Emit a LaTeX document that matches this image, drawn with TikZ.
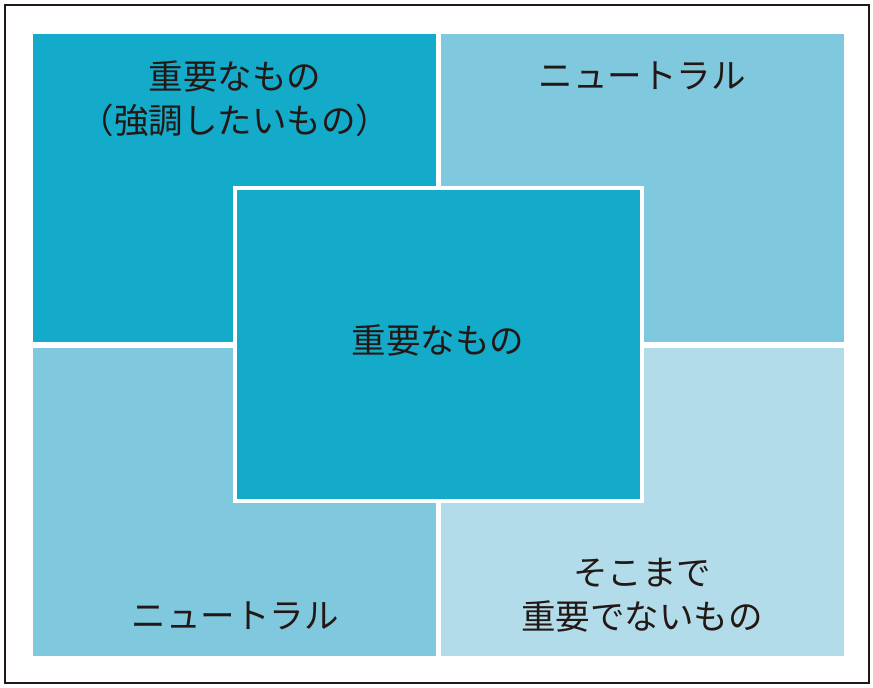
\documentclass[tikz,border=0pt]{standalone}
\usepackage{fontspec}
\newfontfamily\jpfont{Noto Sans CJK JP}

\begin{document}
\begin{tikzpicture}[
    x=1pt, y=-1pt,
    quad/.style={inner sep=0pt, minimum width=403pt, minimum height=308pt},
    centerbox/.style={draw=white, line width=4pt, fill=strong,
        inner sep=0pt, minimum width=407pt, minimum height=313pt},
    word/.style={font=\jpfont\fontsize{34.5}{44}\selectfont, text=ink,
        align=center, inner sep=0pt}
]
    \definecolor{strong}{HTML}{13ABC9}
    \definecolor{neutral}{HTML}{80C8DD}
    \definecolor{weak}{HTML}{B2DCE9}
    \definecolor{ink}{HTML}{231815}
    \useasboundingbox (0,0) rectangle (873,688);
    \draw[line width=1.2pt, draw=ink] (5,5) rectangle (869,683);
    % quadrants
    \node[quad, fill=strong] (tl) at (234.5,188) {};
    \node[quad, fill=neutral] (tr) at (642.5,188) {};
    \node[quad, fill=neutral] (bl) at (234.5,501.5) {};
    \node[quad, fill=weak] (br) at (642.5,501.5) {};
    \node[centerbox] (mid) at (438.5,344.5) {};
    % texts
    \node[word] (tltext) at (235,99) {重要なもの\\（強調したいもの）};
    \node[word] (trtext) at (642,76) {ニュートラル};
    \node[word] (midtext) at (438,341) {重要なもの};
    \node[word] (bltext) at (235,616) {ニュートラル};
    \node[word] (brtext) at (642,595) {そこまで\\重要でないもの};
\end{tikzpicture}
\end{document}
